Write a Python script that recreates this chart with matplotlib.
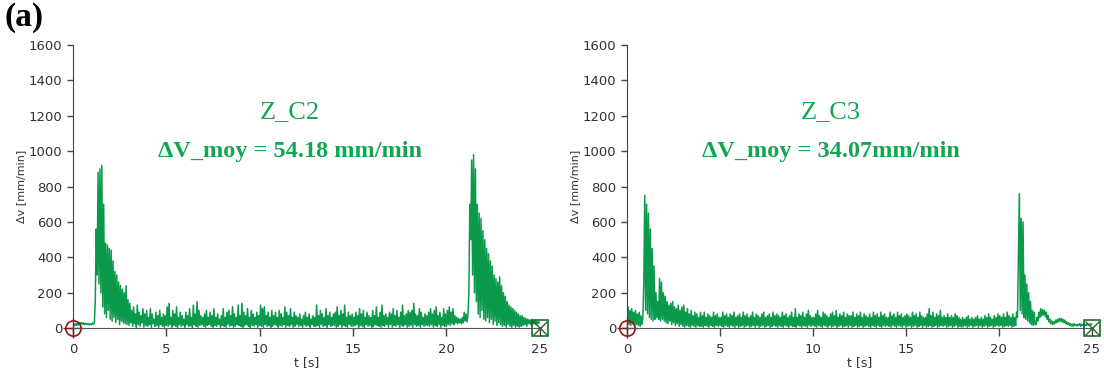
import numpy as np
import matplotlib.pyplot as plt

# time step of the read-off series (s)
dt = 0.05

# Z_C2 : delta v [mm/min], one row per second (20 samples of 0.05 s)
dv_c2 = [
    10, 22, 14, 25, 16, 28, 18, 30, 20, 32, 22, 30, 20, 28, 22, 26, 20, 25, 18, 24,
    20, 28, 22, 30, 150, 560, 300, 880, 250, 900, 200, 920, 120, 700, 80, 480, 60, 470, 100, 450,
    50, 440, 40, 380, 60, 320, 30, 300, 50, 260, 20, 240, 40, 220, 30, 200, 25, 240, 20, 160,
    15, 140, 30, 100, 10, 120, 25, 80, 5, 130, 20, 90, 10, 70, 30, 110, 5, 80, 15, 100,
    10, 60, 20, 110, 5, 80, 25, 50, 10, 90, 15, 70, 5, 100, 20, 60, 10, 80, 5, 70,
    15, 120, 10, 140, 20, 60, 5, 100, 15, 80, 10, 120, 5, 60, 20, 90, 10, 70, 15, 50,
    5, 90, 20, 70, 10, 110, 15, 60, 5, 130, 20, 80, 10, 150, 5, 100, 15, 70, 20, 60,
    10, 80, 5, 100, 15, 60, 20, 90, 10, 70, 5, 110, 15, 60, 10, 80, 20, 50, 5, 70,
    15, 110, 10, 60, 5, 90, 20, 100, 10, 70, 15, 120, 5, 80, 10, 60, 20, 130, 15, 70,
    10, 140, 5, 90, 15, 70, 20, 110, 10, 60, 5, 100, 15, 80, 10, 60, 20, 90, 5, 70,
    15, 130, 10, 110, 5, 120, 20, 70, 10, 90, 15, 60, 5, 100, 10, 70, 20, 90, 15, 60,
    5, 100, 15, 80, 10, 60, 20, 120, 5, 90, 15, 70, 10, 110, 20, 60, 5, 90, 10, 70,
    20, 60, 10, 80, 15, 50, 5, 70, 20, 90, 10, 60, 15, 80, 5, 50, 20, 70, 10, 60,
    10, 130, 15, 70, 5, 100, 20, 80, 10, 60, 15, 110, 5, 70, 20, 90, 10, 60, 15, 80,
    15, 90, 5, 120, 10, 70, 20, 100, 5, 80, 15, 130, 10, 60, 5, 90, 20, 70, 10, 80,
    10, 60, 15, 90, 20, 70, 5, 110, 15, 80, 10, 100, 5, 60, 20, 90, 10, 70, 15, 60,
    5, 100, 10, 70, 20, 120, 15, 60, 10, 90, 5, 130, 15, 70, 10, 80, 20, 60, 5, 90,
    20, 80, 5, 110, 15, 70, 10, 100, 20, 60, 5, 90, 15, 130, 10, 70, 20, 80, 5, 100,
    10, 90, 15, 100, 5, 140, 20, 80, 10, 70, 15, 110, 5, 90, 20, 60, 10, 80, 15, 70,
    15, 90, 10, 110, 20, 80, 5, 100, 15, 120, 10, 70, 20, 90, 5, 60, 15, 110, 10, 80,
    10, 100, 20, 120, 15, 90, 25, 110, 20, 70, 30, 60, 25, 55, 30, 50, 25, 60, 30, 90,
    40, 80, 35, 70, 200, 700, 500, 950, 300, 980, 200, 900, 150, 700, 80, 650, 60, 620, 100, 550,
    50, 500, 40, 450, 60, 420, 30, 380, 50, 350, 20, 300, 40, 280, 15, 260, 30, 290, 20, 240,
    10, 200, 15, 180, 5, 150, 20, 130, 10, 120, 5, 110, 15, 100, 5, 90, 10, 80, 5, 70,
    10, 70, 15, 60, 20, 55, 10, 50, 25, 45, 20, 50, 15, 40, 25, 45, 20, 40, 25, 35,
    30,
]

# Z_C3
dv_c3 = [
    10, 120, 20, 100, 15, 110, 25, 90, 10, 100, 20, 80, 15, 90, 10, 70, 20, 60, 250, 750,
    100, 700, 80, 650, 60, 560, 50, 450, 40, 350, 50, 200, 60, 150, 50, 280, 40, 260, 50, 200,
    40, 180, 30, 150, 25, 130, 40, 140, 20, 150, 30, 120, 15, 110, 25, 130, 10, 100, 20, 120,
    10, 130, 5, 90, 15, 110, 10, 80, 5, 100, 15, 70, 10, 90, 5, 80, 15, 60, 10, 90,
    10, 70, 5, 90, 15, 60, 10, 80, 5, 70, 15, 60, 10, 90, 5, 70, 15, 80, 10, 60,
    15, 60, 10, 90, 5, 70, 15, 80, 10, 60, 5, 80, 15, 70, 10, 90, 5, 60, 15, 70,
    5, 80, 10, 60, 15, 90, 5, 70, 10, 80, 15, 60, 5, 70, 10, 90, 15, 60, 5, 80,
    15, 70, 5, 60, 10, 80, 15, 90, 5, 60, 10, 70, 15, 80, 5, 60, 10, 90, 15, 70,
    10, 80, 5, 70, 15, 60, 10, 90, 5, 70, 15, 80, 10, 60, 5, 70, 15, 90, 10, 60,
    10, 110, 5, 60, 15, 80, 10, 70, 5, 90, 15, 60, 10, 80, 5, 100, 15, 70, 10, 60,
    15, 60, 10, 80, 5, 100, 15, 70, 10, 60, 5, 90, 15, 80, 10, 70, 5, 60, 15, 80,
    5, 90, 10, 70, 15, 100, 5, 60, 10, 80, 15, 70, 5, 90, 10, 60, 15, 80, 5, 70,
    15, 70, 5, 90, 10, 60, 15, 80, 5, 70, 10, 90, 15, 60, 5, 80, 10, 70, 15, 60,
    10, 80, 5, 60, 15, 90, 10, 70, 5, 80, 15, 60, 10, 90, 5, 70, 15, 80, 10, 60,
    15, 60, 10, 90, 5, 70, 15, 80, 10, 60, 5, 90, 15, 70, 10, 80, 5, 60, 15, 70,
    5, 80, 10, 70, 15, 60, 5, 90, 10, 70, 15, 80, 5, 60, 10, 90, 15, 70, 5, 60,
    15, 60, 5, 80, 10, 110, 15, 70, 5, 90, 10, 60, 15, 80, 5, 70, 10, 100, 15, 60,
    10, 70, 15, 60, 5, 80, 10, 60, 15, 70, 5, 60, 10, 80, 15, 70, 5, 60, 10, 50,
    5, 60, 10, 50, 15, 60, 5, 70, 10, 50, 15, 60, 5, 50, 10, 60, 15, 70, 5, 50,
    15, 60, 5, 50, 10, 70, 15, 60, 5, 80, 10, 60, 15, 50, 5, 70, 10, 60, 15, 80,
    10, 70, 15, 60, 5, 80, 10, 60, 15, 90, 10, 70, 15, 60, 5, 80, 10, 60, 15, 90,
    60, 400, 760, 100, 620, 80, 600, 60, 300, 50, 250, 40, 200, 30, 150, 20, 100, 15, 90, 20,
    20, 60, 40, 90, 60, 110, 70, 105, 75, 100, 65, 90, 50, 70, 35, 50, 25, 40, 20, 35,
    25, 45, 30, 50, 35, 55, 38, 55, 35, 50, 30, 45, 25, 35, 20, 30, 15, 25, 12, 22,
    10, 25, 15, 20, 12, 22, 15, 25, 10, 20, 15, 25, 12, 20, 15, 25, 18, 22, 15, 25,
    20,
]

titles = ["Z_C2", "Z_C3"]
means = ["\u0394V_moy = 54.18 mm/min", "\u0394V_moy = 34.07mm/min"]
text_x = [11.6, 10.95]
yticks = [0, 200, 400, 600, 800, 1000, 1200, 1400, 1600]
xticks = [0, 5, 10, 15, 20, 25]

line_green = "#0B9A4C"
text_green = "#12A650"
axis_gray = "#444444"

fig = plt.figure(figsize=(11.04, 3.72), dpi=100)
boxes = [[0.066, 0.118, 0.423, 0.761], [0.568, 0.118, 0.421, 0.761]]

for box, series, name, mean, tx in zip(boxes, [dv_c2, dv_c3], titles, means, text_x):
    ax = fig.add_axes(box)
    t = np.arange(len(series)) * dt
    ax.plot(t, series, color=line_green, lw=1.1)

    ax.set_xlim(0, 25)
    ax.set_ylim(0, 1600)
    ax.set_xticks(xticks)
    ax.set_yticks(yticks)
    ax.tick_params(axis="both", direction="out", colors=axis_gray,
                   labelsize=9.5, labelcolor="#333333", width=1)
    ax.tick_params(axis="x", length=6, pad=5)
    ax.tick_params(axis="y", length=4)
    for s in ["top", "right"]:
        ax.spines[s].set_visible(False)
    ax.spines["left"].set_color(axis_gray)
    ax.spines["bottom"].set_color("#555555")
    ax.spines["bottom"].set_linestyle((0, (1, 1)))
    ax.set_xlabel("t [s]", fontsize=9, color="#333333", labelpad=0)
    ax.set_ylabel("\u0394v [mm/min]", fontsize=8, color="#333333", labelpad=2)

    # start / end markers
    ax.plot([0], [0], "o", ms=11, mfc="none", mec="#8B1A1A", mew=1.2, clip_on=False)
    ax.plot([0], [0], "+", ms=15, mec="#8B1A1A", mew=1.0, clip_on=False)
    ax.plot([25], [0], "s", ms=11, mfc="none", mec="#1F6B2A", mew=1.2, clip_on=False)
    ax.plot([25], [0], "x", ms=10, mec="#1F6B2A", mew=1.0, clip_on=False)

    ax.text(tx, 1220, name, ha="center", va="center", color=text_green,
            fontsize=19, family="Liberation Serif")
    ax.text(tx, 1000, mean, ha="center", va="center", color=text_green,
            fontsize=17.5, fontweight="bold", family="Liberation Serif")

fig.text(0.004, 0.995, "(a)", ha="left", va="top", fontsize=24,
         fontweight="bold", family="Liberation Serif")

fig.savefig("out.png", dpi=100)
